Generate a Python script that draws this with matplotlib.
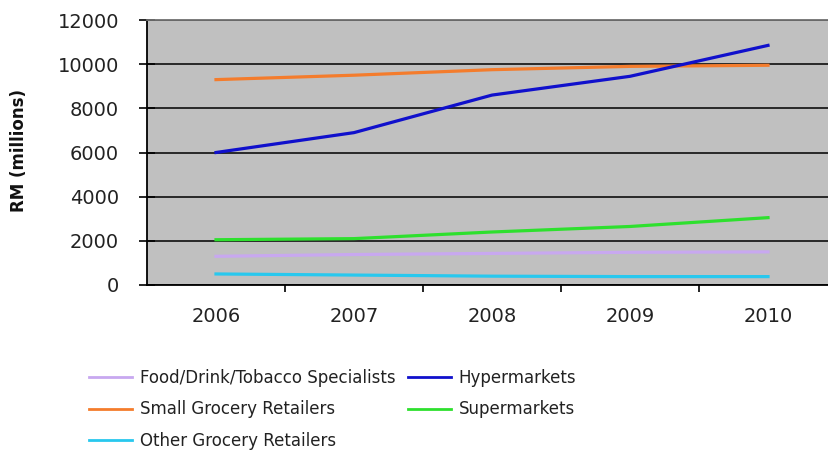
import matplotlib
matplotlib.use("Agg")
import matplotlib.pyplot as plt

years = ["2006", "2007", "2008", "2009", "2010"]
food_drink = [1300, 1380, 1430, 1480, 1500]
hypermarkets = [6000, 6900, 8600, 9450, 10850]
small_grocery = [9300, 9500, 9750, 9900, 9950]
supermarkets = [2050, 2100, 2400, 2650, 3050]
other_grocery = [500, 450, 400, 380, 380]
y_ticks = [0, 2000, 4000, 6000, 8000, 10000, 12000]

plt.rcParams['font.family'] = ['DejaVu Sans']

W, H = 829, 453
fig = plt.figure(figsize=(W / 100, H / 100), dpi=100)
ax = fig.add_axes([147 / W, (H - 285) / H, 690 / W, 265 / H])
ax.set_facecolor('#c0c0c0')

x = list(range(len(years)))
lw = 2.3
l_food, = ax.plot(x, food_drink, color='#c8a8f0', lw=lw, label='Food/Drink/Tobacco Specialists')
l_small, = ax.plot(x, small_grocery, color='#f47c2c', lw=lw, label='Small Grocery Retailers')
l_other, = ax.plot(x, other_grocery, color='#28c8ee', lw=lw, label='Other Grocery Retailers')
l_super, = ax.plot(x, supermarkets, color='#2ee02e', lw=lw, label='Supermarkets')
l_hyper, = ax.plot(x, hypermarkets, color='#1010cc', lw=lw, label='Hypermarkets')

ax.set_xlim(-0.5, len(years) - 0.5)
ax.set_ylim(0, 12000)
ax.set_yticks(y_ticks)
ax.set_yticklabels([str(v) for v in y_ticks], fontsize=14, color='#222222')
ax.yaxis.grid(True, color='black', lw=1.1)
ax.set_axisbelow(True)

ax.set_xticks([i + 0.5 for i in x[:-1]])
ax.set_xticklabels([])
ax.set_xticks(x, minor=True)
ax.set_xticklabels(years, minor=True, fontsize=14, color='#222222')
ax.tick_params(axis='x', which='major', direction='out', length=5, width=1.2, color='black')
ax.tick_params(axis='x', which='minor', length=0, pad=16)
ax.tick_params(axis='y', direction='inout', length=12, width=1.2, pad=14)

for s in ['left', 'bottom']:
    ax.spines[s].set_color('black')
    ax.spines[s].set_linewidth(1.3)
ax.spines['top'].set_color('#707070')
ax.spines['top'].set_linewidth(1.3)
ax.spines['right'].set_visible(False)

fig.text(19 / W, (H - 150) / H, 'RM (millions)', rotation=90, ha='center', va='center',
         fontsize=12, fontweight='bold', color='#111111')

leg = fig.legend(handles=[l_food, l_small, l_other, l_hyper, l_super], ncol=2,
                 loc='upper left', bbox_to_anchor=(89 / W, (H - 369) / H),
                 frameon=False, fontsize=12, handlelength=2.6, handletextpad=0.45,
                 columnspacing=0.75, labelspacing=0.8, borderpad=0, borderaxespad=0)
for t in leg.get_texts():
    t.set_color('#222222')
for line in leg.get_lines():
    line.set_linewidth(2)

fig.savefig('out.png', dpi=100)
